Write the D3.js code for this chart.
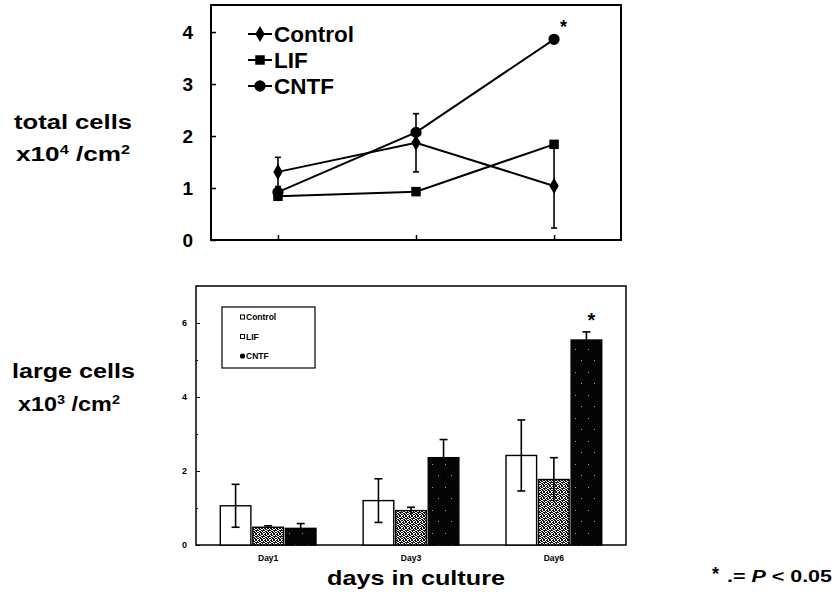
<!DOCTYPE html>
<html>
<head>
<meta charset="utf-8" />
<style>
  html, body { margin: 0; padding: 0; background: #fff; }
  svg text { font-family: "Liberation Sans", Arial, Helvetica, sans-serif; font-weight: bold; fill: #000; }
  .frame { fill: none; stroke: #000; }
  .series { fill: none; stroke: #000; stroke-width: 2px; }
  .err { stroke: #000; stroke-width: 1.6px; }
</style>
</head>
<body>
<div id="vis"></div>
<script src="https://d3js.org/d3.v7.min.js"></script>
<script>
  // ** DATA **
  var days = ["Day1", "Day3", "Day6"];
  var groups = ["Control", "LIF", "CNTF"];

  // total cells x10^4 /cm2 (line chart)
  var totalControl = [1.31, 1.87, 1.04];
  var totalControlErr = [0.28, 0.56, 0.81];
  var totalLIF = [0.84, 0.93, 1.84];
  var totalCNTF = [0.92, 2.07, 3.86];
  var totalTicks = [0, 1, 2, 3, 4];

  // large cells x10^3 /cm2 (bar chart)
  var largeControl = [1.06, 1.20, 2.42];
  var largeControlErr = [0.58, 0.59, 0.96];
  var largeLIF = [0.48, 0.93, 1.77];
  var largeLIFErr = [0.04, 0.09, 0.59];
  var largeCNTF = [0.45, 2.36, 5.54];
  var largeCNTFErr = [0.13, 0.49, 0.22];
  var largeTicks = [0, 2, 4, 6];
  var largeMinor = [1, 3, 5, 7];

(function() {
  var W = 835, H = 604;
  var svg = d3.select("#vis").append("svg").attr("width", W).attr("height", H);

  // textures for the bars
  var defs = svg.append("defs");
  var stip = defs.append("pattern").attr("id", "stip").attr("patternUnits", "userSpaceOnUse")
    .attr("width", 6).attr("height", 6);
  stip.append("rect").attr("width", 6).attr("height", 6).attr("fill", "#fff");
  [[0,0],[1,0],[3,0],[4,0],[1,1],[2,1],[5,1],[0,2],[3,2],[4,2],[5,2],[1,3],[2,3],[4,3],
   [0,4],[2,4],[3,4],[5,4],[1,5],[3,5],[4,5]].forEach(function(p) {
    stip.append("rect").attr("x", p[0]).attr("y", p[1]).attr("width", 1).attr("height", 1).attr("fill", "#111");
  });
  var dark = defs.append("pattern").attr("id", "dark").attr("patternUnits", "userSpaceOnUse")
    .attr("width", 13).attr("height", 23);
  dark.append("rect").attr("width", 13).attr("height", 23).attr("fill", "#050505");
  [[3,4],[9,15]].forEach(function(p) {
    dark.append("rect").attr("x", p[0]).attr("y", p[1]).attr("width", 1).attr("height", 1).attr("fill", "#999");
  });

  // ** TOP PANEL **
  var box1 = { x0: 211, x1: 621, y0: 5, y1: 240 };
  var xT = d3.scalePoint().domain(days).range([box1.x0, box1.x1]).padding(0.485);
  var yT = d3.scaleLinear().domain([0, 4.52]).range([box1.y1, box1.y0]);

  var gT = svg.append("g");
  gT.append("rect").attr("class", "frame").attr("stroke-width", 2)
    .attr("x", box1.x0).attr("y", box1.y0).attr("width", box1.x1 - box1.x0).attr("height", box1.y1 - box1.y0);

  var axT = gT.append("g").attr("transform", "translate(" + box1.x0 + ",0)")
    .call(d3.axisLeft(yT).tickValues(totalTicks).tickFormat(d3.format("d"))
      .tickSizeInner(-5).tickSizeOuter(0).tickPadding(18));
  axT.select(".domain").remove();
  axT.selectAll("line").attr("stroke-width", 1.5);
  axT.selectAll("text").attr("font-size", 19).attr("font-family", null);

  var axTb = gT.append("g").attr("transform", "translate(0," + box1.y1 + ")")
    .call(d3.axisBottom(xT).tickSizeInner(-5).tickSizeOuter(0).tickFormat(""));
  axTb.select(".domain").remove();
  axTb.selectAll("line").attr("stroke-width", 1.5);

  // error bars (Control)
  days.forEach(function(d, i) {
    var x = xT(d), lo = yT(totalControl[i] - totalControlErr[i]), hi = yT(totalControl[i] + totalControlErr[i]);
    gT.append("line").attr("class", "err").attr("x1", x).attr("x2", x).attr("y1", lo).attr("y2", hi);
    gT.append("line").attr("class", "err").attr("x1", x - 3).attr("x2", x + 3).attr("y1", lo).attr("y2", lo);
    gT.append("line").attr("class", "err").attr("x1", x - 3).attr("x2", x + 3).attr("y1", hi).attr("y2", hi);
  });

  var line = d3.line().x(function(d, i) { return xT(days[i]); }).y(function(d) { return yT(d); });
  var symDiamond = d3.symbol().type(d3.symbolDiamond).size(75);
  var symSquare = d3.symbol().type(d3.symbolSquare).size(90);
  var symCircle = d3.symbol().type(d3.symbolCircle).size(100);

  var lineSeries = [
    { name: "Control", values: totalControl, sym: symDiamond },
    { name: "LIF", values: totalLIF, sym: symSquare },
    { name: "CNTF", values: totalCNTF, sym: symCircle }
  ];
  lineSeries.forEach(function(s) {
    gT.append("path").attr("class", "series").attr("d", line(s.values));
    gT.selectAll(null).data(s.values).enter().append("path")
      .attr("d", s.sym)
      .attr("transform", function(d, i) { return "translate(" + xT(days[i]) + "," + yT(d) + ")"; })
      .attr("fill", "#000");
  });
  gT.append("text").attr("x", xT("Day6") + 6).attr("y", yT(totalCNTF[2]) - 6)
    .attr("font-size", 18).attr("font-weight", "normal").text("*");

  // legend
  lineSeries.forEach(function(s, i) {
    var ly = 34 + i * 26;
    gT.append("line").attr("x1", 248).attr("x2", 272).attr("y1", ly).attr("y2", ly)
      .attr("stroke", "#000").attr("stroke-width", 2);
    gT.append("path").attr("d", s.sym).attr("transform", "translate(260," + ly + ")").attr("fill", "#000");
    gT.append("text").attr("x", 274).attr("y", ly + 8).attr("font-size", 22.5).text(s.name);
  });

  svg.append("text").attr("x", 14).attr("y", 129).attr("font-size", 21)
    .attr("textLength", 118).attr("lengthAdjust", "spacingAndGlyphs").text("total cells");
  var lab1 = svg.append("text").attr("x", 16).attr("y", 161).attr("font-size", 21)
    .attr("textLength", 114).attr("lengthAdjust", "spacingAndGlyphs");
  lab1.append("tspan").text("x10");
  lab1.append("tspan").attr("font-size", 13).attr("dy", -7).text("4");
  lab1.append("tspan").attr("dy", 7).text(" /cm");
  lab1.append("tspan").attr("font-size", 13).attr("dy", -7).text("2");

  // ** BOTTOM PANEL **
  var box2 = { x0: 196, x1: 626, y0: 286, y1: 545 };
  var xB = d3.scaleBand().domain(days).range([box2.x0, box2.x1]).paddingInner(0.33).paddingOuter(0.17);
  var xG = d3.scaleBand().domain(groups).range([0, xB.bandwidth()]).paddingInner(0.06);
  var yB = d3.scaleLinear().domain([0, 7]).range([box2.y1, box2.y0]);

  var gB = svg.append("g");
  gB.append("rect").attr("class", "frame").attr("stroke-width", 1.5)
    .attr("x", box2.x0).attr("y", box2.y0).attr("width", box2.x1 - box2.x0).attr("height", box2.y1 - box2.y0);

  var axB = gB.append("g").attr("transform", "translate(" + box2.x0 + ",0)")
    .call(d3.axisLeft(yB).tickValues(largeTicks).tickFormat(d3.format("d"))
      .tickSizeInner(-4).tickSizeOuter(0).tickPadding(9));
  axB.select(".domain").remove();
  axB.selectAll("text").attr("font-size", 9).attr("font-family", null);
  var axBm = gB.append("g").attr("transform", "translate(" + box2.x0 + ",0)")
    .call(d3.axisLeft(yB).tickValues(largeMinor).tickSizeInner(-2).tickSizeOuter(0).tickFormat(""));
  axBm.select(".domain").remove();

  var axBx = gB.append("g").attr("transform", "translate(0," + box2.y1 + ")")
    .call(d3.axisBottom(xB).tickSize(0).tickPadding(10));
  axBx.select(".domain").remove();
  axBx.selectAll("text").attr("font-size", 8.5).attr("font-family", null);

  var barSeries = [
    { name: "Control", values: largeControl, err: largeControlErr, fill: "#fff" },
    { name: "LIF", values: largeLIF, err: largeLIFErr, fill: "url(#stip)" },
    { name: "CNTF", values: largeCNTF, err: largeCNTFErr, fill: "url(#dark)" }
  ];
  barSeries.forEach(function(s) {
    var g = gB.append("g");
    g.selectAll("rect").data(s.values).enter().append("rect")
      .attr("x", function(d, i) { return xB(days[i]) + xG(s.name); })
      .attr("y", function(d) { return yB(d); })
      .attr("width", xG.bandwidth())
      .attr("height", function(d) { return yB(0) - yB(d); })
      .attr("fill", s.fill).attr("stroke", "#000").attr("stroke-width", 1.4);
    s.values.forEach(function(v, i) {
      var cx = xB(days[i]) + xG(s.name) + xG.bandwidth() / 2;
      var lo = yB(v - s.err[i]), hi = yB(v + s.err[i]);
      g.append("line").attr("class", "err").attr("x1", cx).attr("x2", cx).attr("y1", lo).attr("y2", hi);
      g.append("line").attr("class", "err").attr("x1", cx - 4).attr("x2", cx + 4).attr("y1", hi).attr("y2", hi).attr("stroke-width", 2);
      if (s.name === "Control")
        g.append("line").attr("class", "err").attr("x1", cx - 4).attr("x2", cx + 4).attr("y1", lo).attr("y2", lo).attr("stroke-width", 2);
    });
  });
  gB.append("text").attr("x", xB("Day6") + xG("CNTF") + xG.bandwidth() / 2 + 5)
    .attr("y", yB(largeCNTF[2] + largeCNTFErr[2]) - 5).attr("text-anchor", "middle")
    .attr("font-size", 20).attr("font-weight", "normal").text("*");

  // legend box
  gB.append("rect").attr("x", 222).attr("y", 307).attr("width", 93).attr("height", 61)
    .attr("fill", "#fff").attr("stroke", "#000").attr("stroke-width", 1.2);
  groups.forEach(function(name, i) {
    var ly = 317 + i * 19.5;
    if (i < 2) {
      gB.append("rect").attr("x", 240.5).attr("y", ly - 2).attr("width", 4).attr("height", 4)
        .attr("fill", "#fff").attr("stroke", "#000").attr("stroke-width", 1);
    } else {
      gB.append("circle").attr("cx", 242.5).attr("cy", ly).attr("r", 2.6).attr("fill", "#000");
    }
    gB.append("text").attr("x", 246).attr("y", ly + 3).attr("font-size", 8.5).text(name);
  });

  svg.append("text").attr("x", 12).attr("y", 378).attr("font-size", 21)
    .attr("textLength", 123).attr("lengthAdjust", "spacingAndGlyphs").text("large cells");
  var lab2 = svg.append("text").attr("x", 18).attr("y", 411).attr("font-size", 21)
    .attr("textLength", 102).attr("lengthAdjust", "spacingAndGlyphs");
  lab2.append("tspan").text("x10");
  lab2.append("tspan").attr("font-size", 13).attr("dy", -7).text("3");
  lab2.append("tspan").attr("dy", 7).text(" /cm");
  lab2.append("tspan").attr("font-size", 13).attr("dy", -7).text("2");

  svg.append("text").attr("x", 327).attr("y", 585).attr("font-size", 21)
    .attr("textLength", 178).attr("lengthAdjust", "spacingAndGlyphs").text("days in culture");

  // significance note
  svg.append("text").attr("x", 712).attr("y", 580).attr("font-size", 18).attr("font-weight", "normal").text("*");
  var note = svg.append("text").attr("x", 727).attr("y", 582).attr("font-size", 16)
    .attr("textLength", 105).attr("lengthAdjust", "spacingAndGlyphs");
  note.append("tspan").text(".= ");
  note.append("tspan").attr("font-style", "italic").text("P");
  note.append("tspan").text(" < 0.05");
})();
</script>
</body>
</html>
